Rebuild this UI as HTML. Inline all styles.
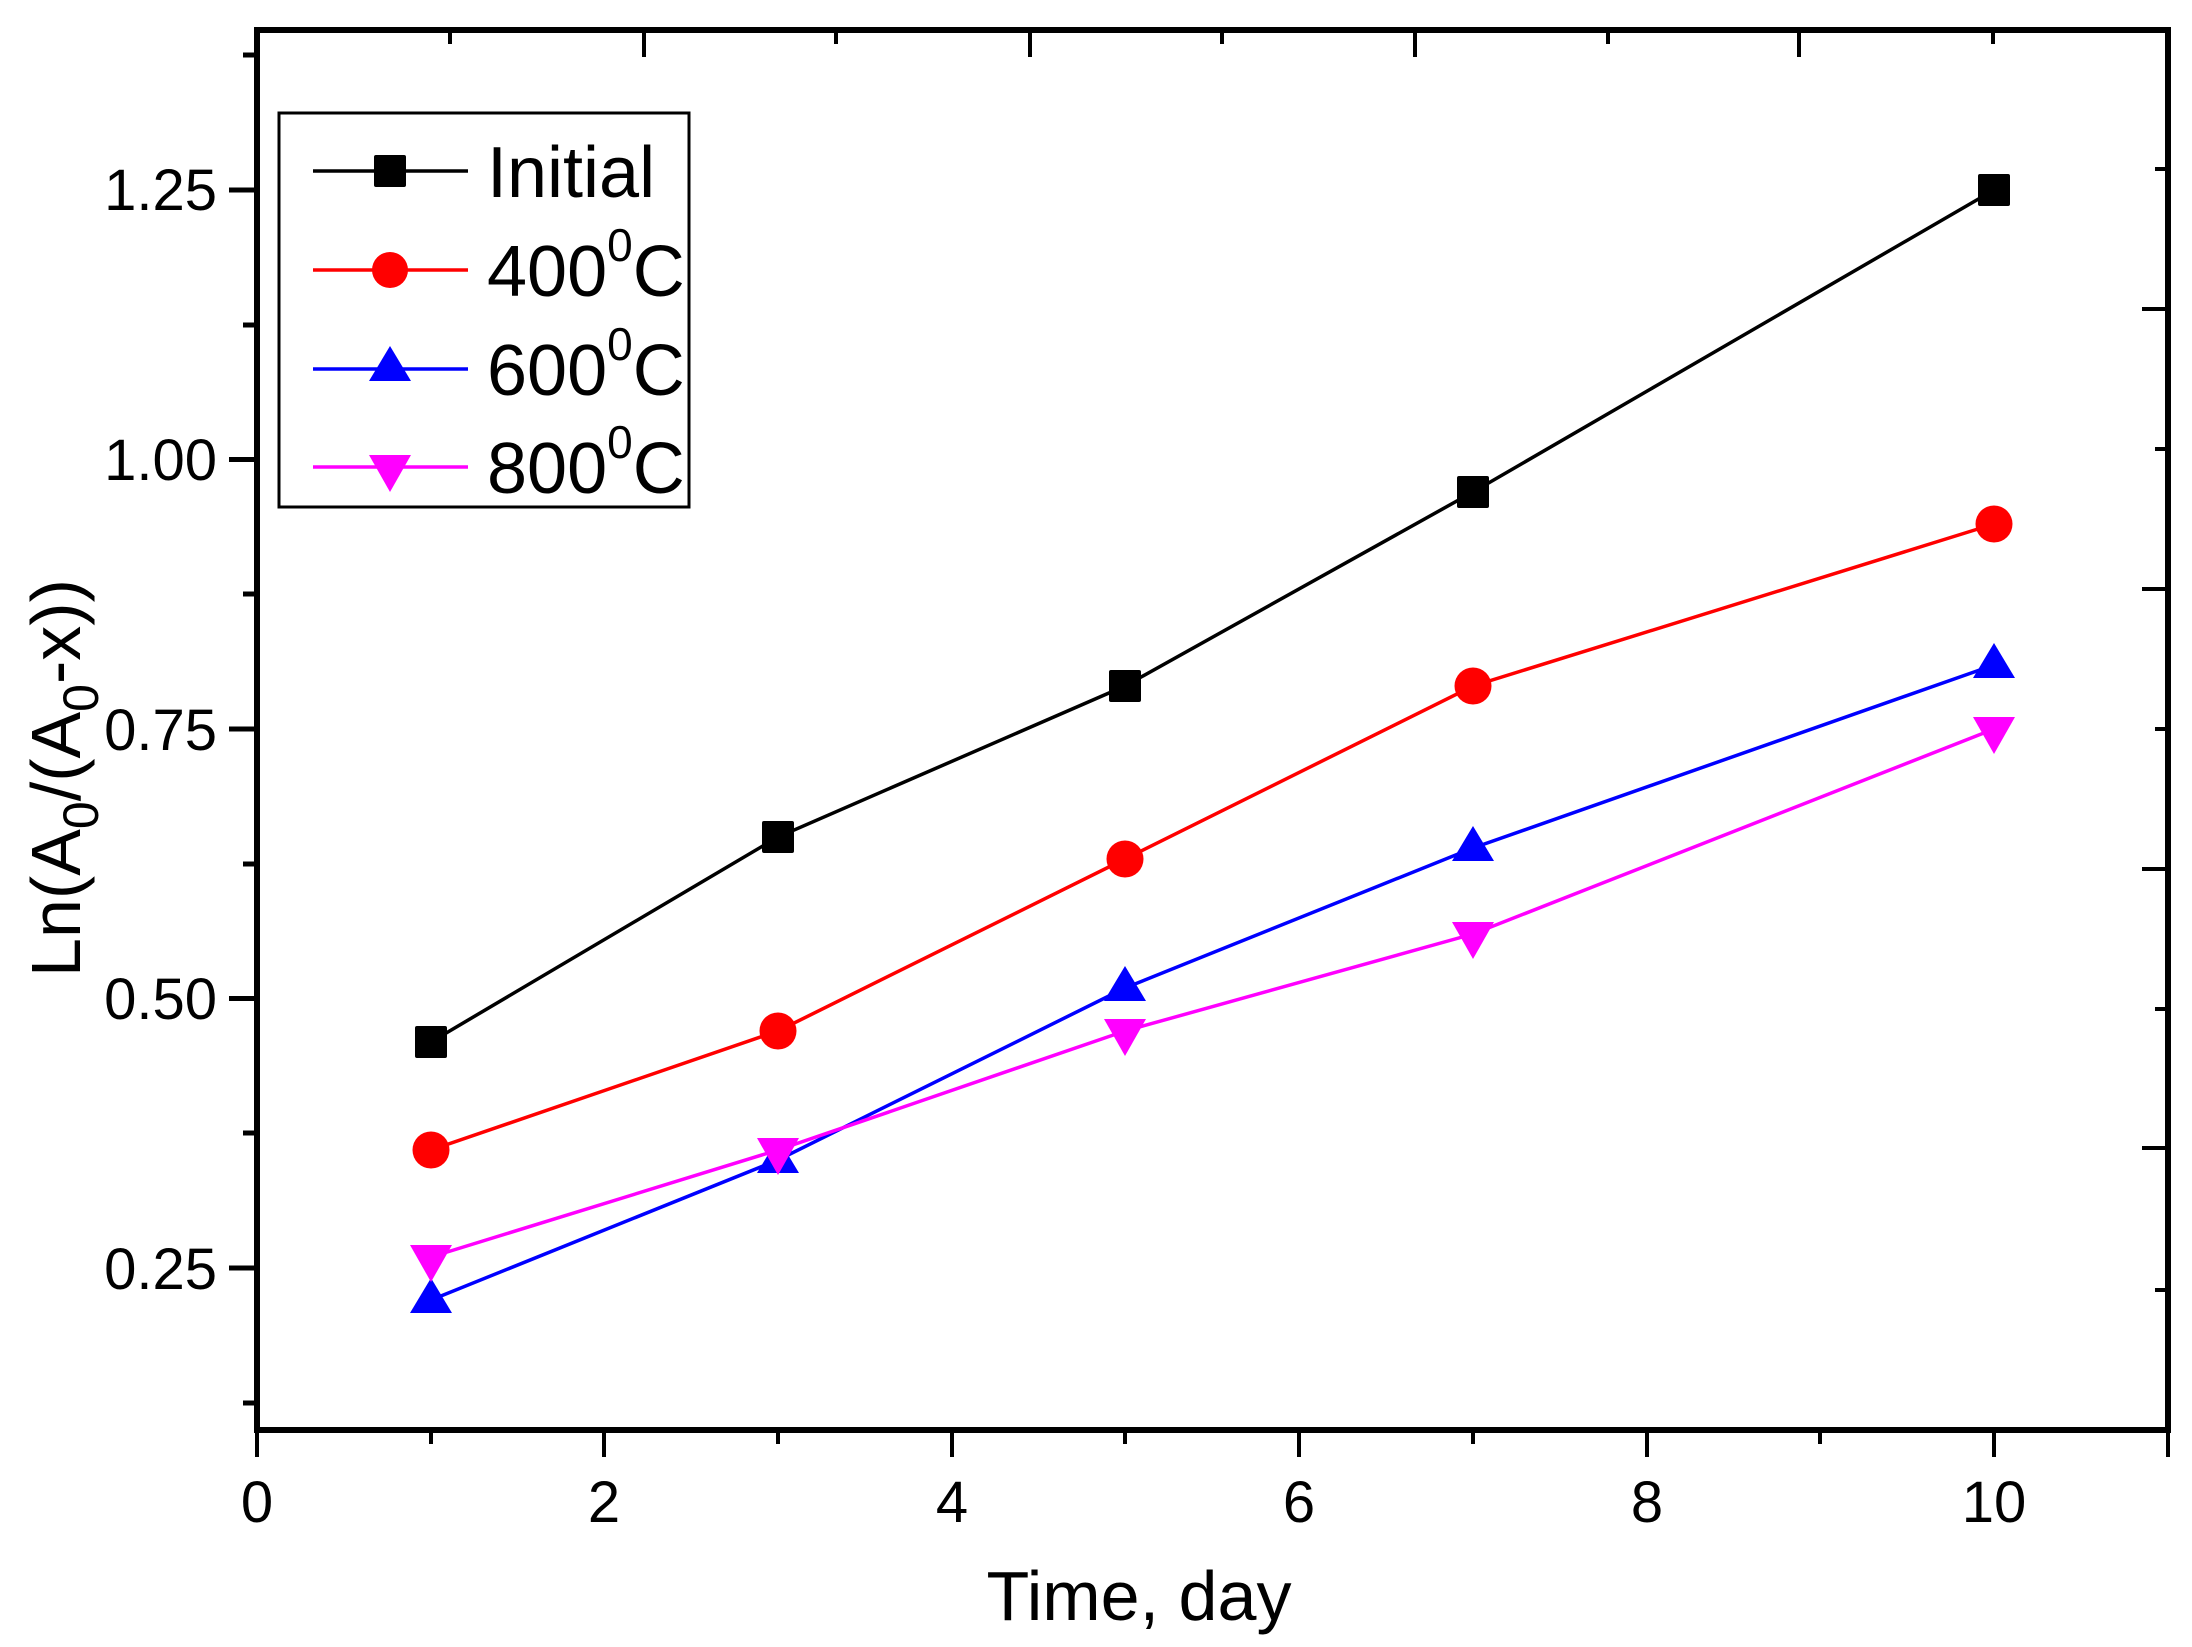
<!DOCTYPE html>
<html><head><meta charset="utf-8"><style>html,body{margin:0;padding:0;background:#fff}svg{display:block}</style></head>
<body>
<svg width="2192" height="1647" viewBox="0 0 2192 1647" xmlns="http://www.w3.org/2000/svg" font-family="Liberation Sans, Arial, sans-serif">
<rect width="2192" height="1647" fill="#fff"/>
<rect x="257" y="30" width="1911" height="1400" fill="none" stroke="#000" stroke-width="6"/>
<g stroke="#000" stroke-width="5">
<line x1="229" y1="190" x2="257" y2="190"/><line x1="229" y1="459.5" x2="257" y2="459.5"/><line x1="229" y1="729" x2="257" y2="729"/><line x1="229" y1="998.5" x2="257" y2="998.5"/><line x1="229" y1="1268" x2="257" y2="1268"/>
<line x1="243" y1="55" x2="257" y2="55"/><line x1="243" y1="325" x2="257" y2="325"/><line x1="243" y1="594" x2="257" y2="594"/><line x1="243" y1="864" x2="257" y2="864"/><line x1="243" y1="1133" x2="257" y2="1133"/><line x1="243" y1="1403" x2="257" y2="1403"/>
</g>
<g stroke="#000" stroke-width="4">
<line x1="257" y1="1430" x2="257" y2="1457"/><line x1="604" y1="1430" x2="604" y2="1457"/><line x1="952" y1="1430" x2="952" y2="1457"/><line x1="1299" y1="1430" x2="1299" y2="1457"/><line x1="1647" y1="1430" x2="1647" y2="1457"/><line x1="1994" y1="1430" x2="1994" y2="1457"/>
<line x1="431" y1="1430" x2="431" y2="1444"/><line x1="778" y1="1430" x2="778" y2="1444"/><line x1="1125" y1="1430" x2="1125" y2="1444"/><line x1="1473" y1="1430" x2="1473" y2="1444"/><line x1="1820" y1="1430" x2="1820" y2="1444"/><line x1="2168" y1="1430" x2="2168" y2="1457"/>
<line x1="644" y1="30" x2="644" y2="57"/><line x1="1030" y1="30" x2="1030" y2="57"/><line x1="1415" y1="30" x2="1415" y2="57"/><line x1="1799" y1="30" x2="1799" y2="57"/>
<line x1="450" y1="30" x2="450" y2="44"/><line x1="836" y1="30" x2="836" y2="44"/><line x1="1222" y1="30" x2="1222" y2="44"/><line x1="1608" y1="30" x2="1608" y2="44"/><line x1="1993" y1="30" x2="1993" y2="44"/>
<line x1="2142" y1="309" x2="2168" y2="309"/><line x1="2142" y1="589" x2="2168" y2="589"/><line x1="2142" y1="869" x2="2168" y2="869"/><line x1="2142" y1="1148" x2="2168" y2="1148"/>
<line x1="2155" y1="169" x2="2168" y2="169"/><line x1="2155" y1="449" x2="2168" y2="449"/><line x1="2155" y1="729" x2="2168" y2="729"/><line x1="2155" y1="1009" x2="2168" y2="1009"/><line x1="2155" y1="1290" x2="2168" y2="1290"/>
</g>
<g font-size="58" text-anchor="end" fill="#000">
<text x="217" y="210">1.25</text><text x="217" y="480">1.00</text><text x="217" y="750">0.75</text><text x="217" y="1019">0.50</text><text x="217" y="1289">0.25</text>
</g>
<g font-size="58" text-anchor="middle" fill="#000">
<text x="257" y="1522">0</text><text x="604" y="1522">2</text><text x="952" y="1522">4</text><text x="1299" y="1522">6</text><text x="1647" y="1522">8</text><text x="1994" y="1522">10</text>
</g>
<text x="1139" y="1620" font-size="70" text-anchor="middle" textLength="305" lengthAdjust="spacingAndGlyphs">Time, day</text>
<text transform="translate(80,778) rotate(-90)" font-size="70" text-anchor="middle">Ln(A<tspan font-size="50" dy="18">0</tspan><tspan dy="-18">/(A</tspan><tspan font-size="50" dy="18">0</tspan><tspan dy="-18">-x))</tspan></text>
<g fill="none" stroke-width="3.5">
<polyline stroke="#000" points="431,1042 778,837 1125,686 1473,492 1994,190"/>
<polyline stroke="#f00" points="431,1150 778,1031 1125,859 1473,686 1994,524"/>
<polyline stroke="#00f" points="431,1300 778,1160 1125,988 1473,848 1994,665"/>
<polyline stroke="#f0f" points="431,1257 778,1150 1125,1031 1473,934 1994,729"/>
</g>
<g fill="#000">
<rect x="415" y="1026" width="32" height="32" rx="2"/><rect x="762" y="821" width="32" height="32" rx="2"/><rect x="1109" y="670" width="32" height="32" rx="2"/><rect x="1457" y="476" width="32" height="32" rx="2"/><rect x="1978" y="174" width="32" height="32" rx="2"/>
</g>
<g fill="#f00">
<circle cx="431" cy="1150" r="18.5"/><circle cx="778" cy="1031" r="18.5"/><circle cx="1125" cy="859" r="18.5"/><circle cx="1473" cy="686" r="18.5"/><circle cx="1994" cy="524" r="18.5"/>
</g>
<g fill="#00f">
<polygon points="431,1278 452,1313 410,1313"/><polygon points="778,1138 799,1173 757,1173"/><polygon points="1125,966 1146,1001 1104,1001"/><polygon points="1473,826 1494,861 1452,861"/><polygon points="1994,643 2015,678 1973,678"/>
</g>
<g fill="#f0f">
<polygon points="410,1245 452,1245 431,1282"/><polygon points="757,1138 799,1138 778,1175"/><polygon points="1104,1019 1146,1019 1125,1056"/><polygon points="1452,922 1494,922 1473,959"/><polygon points="1973,717 2015,717 1994,754"/>
</g>
<rect x="279" y="113" width="410" height="394" fill="#fff" stroke="#000" stroke-width="3"/>
<line x1="313" y1="171" x2="468" y2="171" stroke="#000" stroke-width="3.5"/><rect x="374" y="155" width="32" height="32" rx="2"/>
<line x1="313" y1="270" x2="468" y2="270" stroke="#f00" stroke-width="3.5"/><circle cx="390" cy="270" r="18" fill="#f00"/>
<line x1="313" y1="369" x2="468" y2="369" stroke="#00f" stroke-width="3.5"/><polygon points="390,346 411,381 369,381" fill="#00f"/>
<line x1="313" y1="467" x2="468" y2="467" stroke="#f0f" stroke-width="3.5"/><polygon points="369,455 411,455 390,492" fill="#f0f"/>
<g font-size="72" fill="#000">
<text x="487" y="197">Initial</text>
<text x="487" y="296">400<tspan font-size="46" dy="-35">0</tspan><tspan dy="35">C</tspan></text>
<text x="487" y="395">600<tspan font-size="46" dy="-35">0</tspan><tspan dy="35">C</tspan></text>
<text x="487" y="493">800<tspan font-size="46" dy="-35">0</tspan><tspan dy="35">C</tspan></text>
</g>
</svg>
</body></html>
